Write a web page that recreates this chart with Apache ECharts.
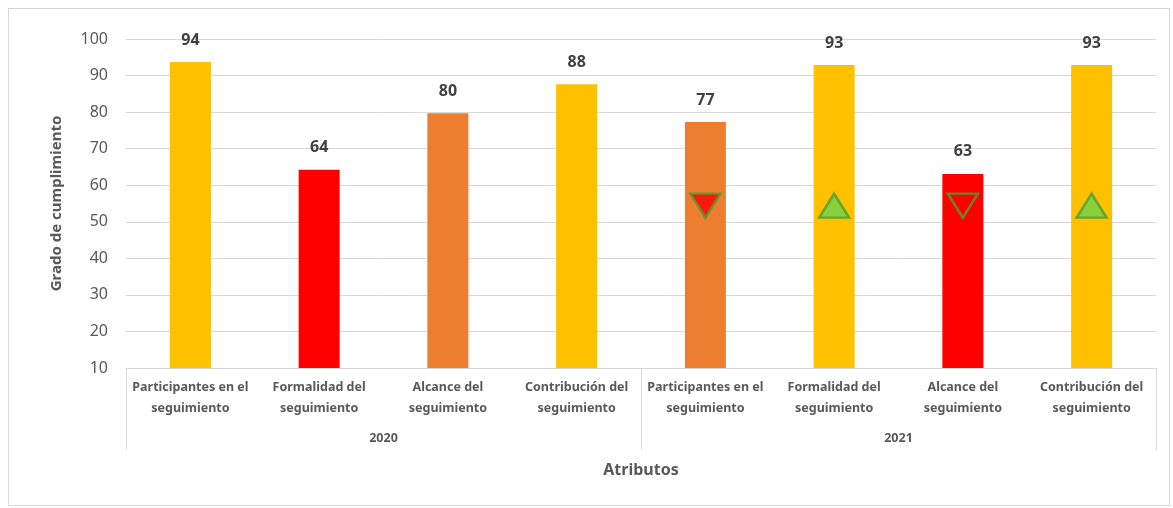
<!DOCTYPE html>
<html>
<head>
<meta charset="utf-8">
<script src="https://cdn.jsdelivr.net/npm/echarts@6/dist/echarts.min.js"></script>
<style>
  html, body { margin: 0; padding: 0; background: #fff; }
  #chart { width: 1173px; height: 508px; }
  .frame { position: absolute; left: 8px; top: 8px; width: 1160px; height: 496px; border: 1px solid #d9d9d9; pointer-events: none; }
</style>
</head>
<body>
<div id="chart"></div>
<div class="frame"></div>
<script>
// datos
const atributos = [
  'Participantes en el\nseguimiento', 'Formalidad del\nseguimiento', 'Alcance del\nseguimiento', 'Contribución del\nseguimiento',
  'Participantes en el\nseguimiento', 'Formalidad del\nseguimiento', 'Alcance del\nseguimiento', 'Contribución del\nseguimiento'
];
const anios = ['2020', '2021'];
const cumplimiento = [93.7, 64.2, 79.7, 87.6, 77.3, 92.9, 63.1, 92.9];
const niveles = ['amarillo', 'rojo', 'naranja', 'amarillo', 'naranja', 'amarillo', 'rojo', 'amarillo'];
// tendencia 2021 respecto a 2020
const tendencia = [null, null, null, null, 'baja', 'sube', 'baja', 'sube'];
const tendenciaValor = [null, null, null, null, 54.4, 54.4, 54.4, 54.4];

const colores = { amarillo: '#FFC000', rojo: '#FF0000', naranja: '#ED7D31' };
const fuente = '"Noto Sans", sans-serif';

const chart = echarts.init(document.getElementById('chart'));

const option = {
  animation: false,
  grid: { left: 126, right: 17, top: 39, bottom: 140 },
  xAxis: [
    {
      type: 'category',
      data: atributos,
      axisLine: { lineStyle: { color: '#d9d9d9' } },
      axisTick: { show: false },
      axisLabel: {
        interval: 0,
        color: '#595959',
        fontFamily: fuente,
        fontWeight: 'bold',
        fontSize: 12.5,
        lineHeight: 21,
        margin: 9
      },
      name: 'Atributos',
      nameLocation: 'middle',
      nameGap: 94,
      nameTextStyle: { color: '#595959', fontFamily: fuente, fontWeight: 'bold', fontSize: 16 }
    },
    {
      type: 'category',
      data: anios,
      position: 'bottom',
      axisLine: { show: false },
      axisTick: { show: true, length: 82, lineStyle: { color: '#d9d9d9' } },
      axisLabel: {
        color: '#595959',
        fontFamily: fuente,
        fontWeight: 'bold',
        fontSize: 12.5,
        margin: 64
      }
    }
  ],
  yAxis: {
    type: 'value',
    min: 10,
    max: 100,
    interval: 10,
    axisLine: { show: false },
    axisTick: { show: false },
    splitLine: { lineStyle: { color: '#d9d9d9' } },
    axisLabel: { color: '#595959', fontFamily: fuente, fontSize: 16, margin: 18 },
    name: 'Grado de cumplimiento',
    nameLocation: 'middle',
    nameGap: 62,
    nameTextStyle: { color: '#595959', fontFamily: fuente, fontWeight: 'bold', fontSize: 15 }
  },
  series: [
    {
      type: 'bar',
      barWidth: 41,
      data: cumplimiento.map((v, i) => ({ value: v, itemStyle: { color: colores[niveles[i]] } })),
      label: {
        show: true,
        position: 'top',
        distance: 14,
        formatter: p => Math.round(p.value),
        color: '#404040',
        fontFamily: fuente,
        fontWeight: 'bold',
        fontSize: 16
      }
    },
    {
      type: 'scatter',
      symbol: 'triangle',
      symbolSize: [30, 24],
      z: 5,
      data: tendenciaValor.map((v, i) => {
        if (v === null) return null;
        const baja = tendencia[i] === 'baja';
        return {
          value: v,
          symbolRotate: baja ? 180 : 0,
          itemStyle: {
            color: baja ? '#FF0000' : '#6FD24B',
            borderColor: '#4E9F2E',
            borderWidth: 2.5
          }
        };
      })
    }
  ]
};

chart.setOption(option);
</script>
</body>
</html>
